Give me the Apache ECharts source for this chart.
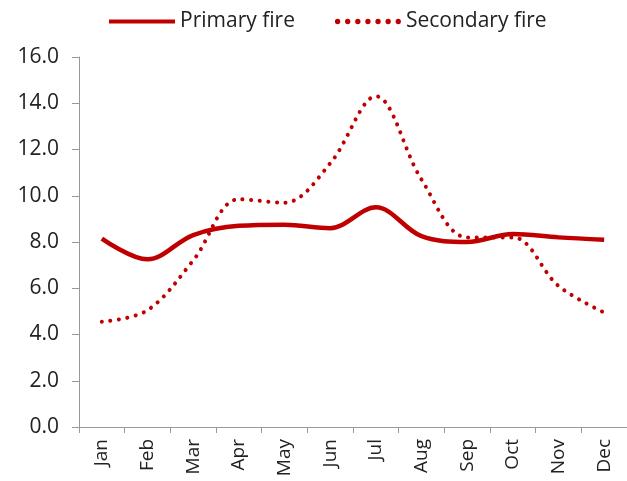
<!DOCTYPE html>
<html>
<head>
<meta charset="utf-8">
<script src="https://cdn.jsdelivr.net/npm/echarts@6/dist/echarts.min.js"></script>
<style>
  html, body { margin: 0; padding: 0; background: #fff; }
  #chart { width: 627px; height: 481px; }
</style>
</head>
<body>
<div id="chart"></div>
<script>
const months = ['Jan', 'Feb', 'Mar', 'Apr', 'May', 'Jun', 'Jul', 'Aug', 'Sep', 'Oct', 'Nov', 'Dec']
const primaryFire = [8.15, 7.25, 8.3, 8.7, 8.75, 8.6, 9.5, 8.25, 8.0, 8.35, 8.2, 8.1]
const secondaryFire = [4.55, 5.05, 7.2, 9.85, 9.7, 11.4, 14.3, 10.7, 8.2, 8.2, 6.1, 4.95]

const chart = echarts.init(document.getElementById('chart'))
const red = '#C00000'
const font = '"Open Sans", sans-serif'

// dotted legend marker: 7 round dots
const dots = [0, 1, 2, 3, 4, 5, 6].map(i => {
  const cx = 2.5 + i * 9.5
  return `M${cx - 2.5},7.5 a2.5,2.5 0 1,0 5,0 a2.5,2.5 0 1,0 -5,0 Z`
}).join(' ')

chart.setOption({
  animation: false,
  textStyle: { fontFamily: font },
  legend: {
    top: 6,
    left: 104,
    itemWidth: 66,
    itemHeight: 15,
    itemGap: 40,
    textStyle: { fontSize: 21, color: '#222', fontFamily: font },
    data: [
      { name: 'Primary fire', icon: 'path://M0,5.5 L64,5.5 L64,9.5 L0,9.5 Z', itemStyle: { color: red } },
      { name: 'Secondary fire', icon: 'path://' + dots, itemStyle: { color: red } }
    ]
  },
  grid: { left: 79, right: -3, top: 57, bottom: 54, containLabel: false },
  xAxis: {
    type: 'category',
    data: months,
    boundaryGap: true,
    axisLine: { lineStyle: { color: '#999' } },
    axisTick: { show: true, alignWithLabel: false, length: 6, lineStyle: { color: '#999' } },
    axisLabel: { rotate: 90, fontSize: 19, color: '#222', margin: 12, fontFamily: font }
  },
  yAxis: {
    type: 'value',
    min: 0,
    max: 16,
    interval: 2,
    splitLine: { show: false },
    axisLine: { show: true, lineStyle: { color: '#999' } },
    axisTick: { show: true, length: 7, lineStyle: { color: '#999' } },
    axisLabel: { fontSize: 21, color: '#222', margin: 20, formatter: v => v.toFixed(1), fontFamily: font }
  },
  series: [
    {
      name: 'Primary fire',
      type: 'line',
      data: primaryFire,
      smooth: 0.35,
      symbol: 'none',
      lineStyle: { color: red, width: 4.5 },
      itemStyle: { color: red }
    },
    {
      name: 'Secondary fire',
      type: 'line',
      data: secondaryFire,
      smooth: 0.35,
      symbol: 'none',
      lineStyle: { color: red, width: 4, type: [0.1, 8.5], cap: 'round' },
      itemStyle: { color: red }
    }
  ]
})
</script>
</body>
</html>
